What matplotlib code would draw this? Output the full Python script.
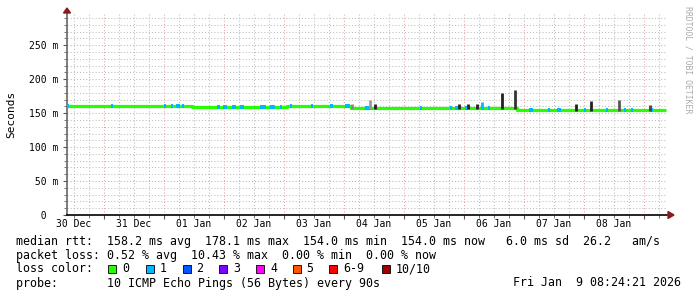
"""SmokePing style latency chart: median rtt over ten days, coloured by packet loss."""

import matplotlib

matplotlib.use("Agg")
import matplotlib.pyplot as plt
import numpy as np
from matplotlib.patches import Polygon, Rectangle

W, H = 697, 297
MONO = "DejaVu Sans Mono"
GREEN = "#26ff00"

# time axis: days since 30 Dec 00:00
X_START, X_END = 0.383, 10.383
DAY_LABELS = ["30 Dec", "31 Dec", "01 Jan", "02 Jan", "03 Jan",
              "04 Jan", "05 Jan", "06 Jan", "07 Jan", "08 Jan"]

# median rtt as steps (ms)
STEP_DAY = [0.383, 2.467, 4.05, 5.117, 7.883, 10.367]
STEP_RTT = [160.7, 159.3, 160.7, 157.0, 154.4]

# samples with one lost ping (start day, end day)
LOSS1_START = [0.383, 1.117, 2.0, 2.117, 2.2, 2.3, 2.883, 2.983, 3.133, 3.267,
               3.6, 3.767, 3.933, 4.1, 4.45, 4.767, 5.017, 5.35, 6.267,
               6.767, 6.85, 7.017, 7.3, 7.4, 8.08, 8.4, 8.55, 9.0, 9.367,
               9.667, 9.783, 10.117]
LOSS1_END = [0.417, 1.15, 2.033, 2.15, 2.267, 2.333, 2.933, 3.05, 3.2, 3.333,
             3.7, 3.85, 3.967, 4.133, 4.483, 4.817, 5.1, 5.467, 6.3,
             6.8, 6.9, 7.05, 7.333, 7.433, 8.15, 8.433, 8.617, 9.033, 9.4,
             9.7, 9.817, 10.15]

# smoke spikes above the median (day, top ms, shade)
SPIKE_DAY = [5.133, 5.433, 5.517, 6.917, 7.067, 7.217, 7.3, 7.633, 7.85,
             8.867, 9.117, 9.583, 10.1]
SPIKE_TOP = [163, 169, 164, 164, 164, 164, 167, 179, 184, 163, 168, 169, 162]
SPIKE_SHADE = ["#888888", "#999999", "#222222", "#222222", "#222222",
               "#222222", "#00b8ff", "#222222", "#333333", "#222222",
               "#222222", "#555555", "#444444"]

LOSS_LABELS = ["0", "1", "2", "3", "4", "5", "6-9", "10/10"]
LOSS_COLORS = ["#26ff00", "#00b8ff", "#0059ff", "#7e00ff", "#ff00ff",
               "#ff5500", "#ff0000", "#a10000"]
LOSS_SWATCH_X = [108, 145.5, 182.5, 219, 256, 292.5, 329, 381.5]


def fx(px):
    return px / W


def fy(py):
    return 1 - py / H


def rtt_at(day):
    i = np.searchsorted(STEP_DAY, day, side="right") - 1
    return STEP_RTT[min(max(i, 0), len(STEP_RTT) - 1)]


fig = plt.figure(figsize=(W / 100, H / 100), dpi=100)
fig.patch.set_facecolor("white")
ax = fig.add_axes([fx(67), fy(215), 600 / W, (215 - 14) / H])
ax.set_xlim(X_START, X_END)
ax.set_ylim(0, 296)

# grid
ax.set_xticks(np.arange(1, 11))
ax.set_xticks(np.arange(0.5, 10.5, 0.25), minor=True)
ax.set_yticks(np.arange(0, 300, 50))
ax.set_yticks(np.arange(0, 300, 10), minor=True)
ax.grid(which="minor", color="#bdbdbd", lw=0.75, ls=(0, (1, 2)))
ax.grid(which="major", color="#eba0a0", lw=0.75, ls=(0, (1, 2)))
ax.set_axisbelow(True)
ax.set_xticklabels([])
ax.set_yticklabels(["  0  "] + [f"{v:3d} m" for v in range(50, 300, 50)],
                   family=MONO, fontsize=7)
ax.tick_params(axis="both", which="major", length=3, width=0.8, color="#555555", pad=3)
ax.tick_params(axis="both", which="minor", length=2, width=0.7, color="#777777")
for s in ("top", "right"):
    ax.spines[s].set_visible(False)
ax.spines["left"].set_color("#666666")
ax.spines["left"].set_linewidth(1.2)
ax.spines["bottom"].set_color("black")
ax.spines["bottom"].set_linewidth(1.2)

for i, lab in enumerate(DAY_LABELS):
    ax.text(i + 0.5, -0.045, lab, transform=ax.get_xaxis_transform(),
            ha="center", va="center", family=MONO, fontsize=7)

# median line
lw = 2.3
ax.step(STEP_DAY, STEP_RTT + [STEP_RTT[-1]], where="post", color=GREEN,
        lw=lw, solid_capstyle="butt", zorder=3)
for d0, d1 in zip(LOSS1_START, LOSS1_END):
    ax.hlines(rtt_at(d0), d0, d1, color=LOSS_COLORS[1], lw=lw + 0.6, zorder=4)
for d, top, c in zip(SPIKE_DAY, SPIKE_TOP, SPIKE_SHADE):
    ax.vlines(d, rtt_at(d) - 1.5, top, color=c, lw=2.0, zorder=5)

# arrows at axis ends
fig.patches.append(Polygon([(fx(63.5), fy(13)), (fx(70.5), fy(13)), (fx(67), fy(8))],
                           closed=True, color="#8b1a1a", transform=fig.transFigure))
fig.patches.append(Polygon([(fx(668), fy(211.5)), (fx(668), fy(218.5)), (fx(674), fy(215))],
                           closed=True, color="#8b1a1a", transform=fig.transFigure))

fig.text(fx(11), fy(114), "Seconds", rotation=90, ha="center", va="center",
         family=MONO, fontsize=8)
fig.text(fx(688), fy(60), "RRDTOOL / TOBI OETIKER", rotation=270, ha="center",
         va="center", family=MONO, fontsize=5.9, color="#aaaaaa")

leg = dict(family=MONO, fontsize=8.4, va="center", ha="left")
fig.text(fx(16), fy(241),
         "median rtt:  158.2 ms avg  178.1 ms max  154.0 ms min  "
         "154.0 ms now   6.0 ms sd  26.2   am/s", **leg)
fig.text(fx(16), fy(255),
         "packet loss: 0.52 % avg  10.43 % max  0.00 % min  0.00 % now", **leg)
fig.text(fx(16), fy(269), "loss color:", **leg)
for x, lab, c in zip(LOSS_SWATCH_X, LOSS_LABELS, LOSS_COLORS):
    fig.patches.append(Rectangle((fx(x), fy(272.5)), 8 / W, 8 / H, facecolor=c,
                                 edgecolor="black", lw=0.6, transform=fig.transFigure))
    fig.text(fx(x + 14), fy(269), lab, **leg)
fig.text(fx(16), fy(283), "probe:       10 ICMP Echo Pings (56 Bytes) every 90s", **leg)
fig.text(fx(681), fy(283), "Fri Jan  9 08:24:21 2026", family=MONO, fontsize=8.4,
         va="center", ha="right")

fig.savefig("out.png", dpi=100)
